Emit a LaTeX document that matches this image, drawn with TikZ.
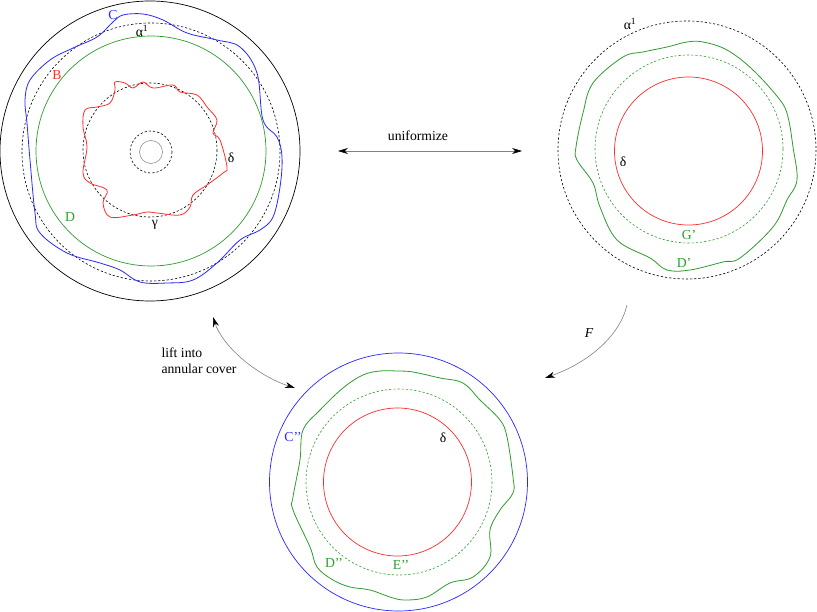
\documentclass[tikz,border=0pt]{standalone}
\usepackage{fontspec}
\setmainfont{Liberation Serif}
\usepackage{tikz}
\usetikzlibrary{arrows.meta,calc,positioning}
\definecolor{curveblue}{RGB}{40,40,255}
\definecolor{curvered}{RGB}{255,45,45}
\definecolor{curvegreen}{RGB}{45,155,45}
\tikzset{%
	every node/.style = {font=\fontsize{13.7}{16}\selectfont, inner sep=0pt},
	solidcirc/.style  = {line width=.7pt},
	dashcirc/.style   = {line width=.6pt, dash pattern=on 2.2pt off 2pt},
	wavy/.style       = {line width=.8pt},
	maparrow/.style   = {line width=.6pt, gray, -{Stealth[black,length=10pt,width=6pt]}},
	bothmap/.style    = {line width=.6pt, gray, {Stealth[black,length=10pt,width=6pt]}-{Stealth[black,length=10pt,width=6pt]}},
}

\begin{document}
\begin{tikzpicture}[x=1pt,y=-1pt]
	\useasboundingbox (0,0) rectangle (817,612);
	
	% original annulus
	\draw[solidcirc] (150,151) circle (150);
	\draw[dashcirc] (151,152) circle (129);
	\draw[solidcirc,curvegreen] (151,151) circle (115);
	\draw[dashcirc] (150,150) circle (67);
	\draw[dashcirc] (151,152) circle (21);
	\draw[line width=.5pt,gray] (151,152) circle (11.5);
	\draw[wavy,curveblue] plot[smooth cycle,tension=.6] coordinates {
		(123,15) (143,14) (163,20) (187,33) (217,40) (240,47) (257,73) (263,120)
		(277,137) (282,157) (280,187) (273,217) (260,230) (240,240) (217,263)
		(193,280) (167,283) (140,282) (120,270) (100,263) (67,253) (40,233)
		(35,213) (30,160) (27,123) (25,100) (30,80) (50,60) (73,48) (97,37) (113,22)};
	\draw[wavy,curvered] plot[smooth cycle,tension=.6] coordinates {
		(115,82) (125,83) (133,88) (143,82) (153,88) (173,85) (180,92) (197,95)
		(207,107) (217,120) (213,133) (220,140) (227,167) (223,173) (207,185)
		(193,195) (190,207) (180,215) (157,213) (147,212) (133,215) (110,217)
		(103,203) (107,190) (90,183) (83,173) (87,147) (83,127) (85,110)
		(97,107) (110,103) (115,90)};
	\node[curveblue] (C) at (113,15) {C};
	\node (alphaA) at (142,31) {α\textsuperscript{1}};
	\node[curvered] (B) at (57,75) {B};
	\node[curvegreen] (D) at (70,217) {D};
	\node (gamma) at (155,225) {γ};
	\node (deltaA) at (231,158) {δ};
	
	% uniformized picture
	\draw[dashcirc] (687,150) circle (129);
	\draw[dashcirc,curvegreen] (689,149) circle (94);
	\draw[solidcirc,curvered] (688.5,151) circle (74);
	\draw[wavy,curvegreen] plot[smooth cycle,tension=.6] coordinates {
		(687,42) (703,42) (727,50) (753,70) (780,100) (788,117) (793,147)
		(797,180) (787,200) (773,227) (740,258) (723,262) (690,270) (667,270)
		(650,258) (617,240) (600,207) (593,183) (577,160) (576,147) (583,113)
		(593,83) (623,57) (643,52) (667,47)};
	\node (alphaB) at (630,24) {α\textsuperscript{1}};
	\node (deltaB) at (623,162) {δ};
	\node[curvegreen] (Gp) at (689,235) {G’};
	\node[curvegreen] (Dp) at (684,263) {D’};
	
	% annular cover
	\draw[solidcirc,curveblue] (398.5,482) circle (129);
	\draw[dashcirc,curvegreen] (399,482) circle (93);
	\draw[solidcirc,curvered] (397.5,482) circle (74);
	\draw[wavy,curvegreen] plot[smooth cycle,tension=.6] coordinates {
		(397,371) (413,372) (440,378) (463,383) (480,400) (500,420) (507,437)
		(513,477) (513,493) (500,510) (490,530) (490,557) (473,577) (450,583)
		(427,597) (407,600) (393,598) (370,590) (350,587) (333,580) (317,567)
		(310,547) (293,510) (293,497) (300,460) (303,430) (320,410) (343,388)
		(363,375) (380,371)};
	\node[curveblue] (Cpp) at (293,437) {C’’};
	\node (deltaC) at (443,438) {δ};
	\node[curvegreen] (Dpp) at (334,563) {D’’};
	\node[curvegreen] (Epp) at (401,565) {E’’};
	
	% maps between the pictures
	\coordinate (uniL) at (338,151);
	\coordinate (uniR) at (522,151);
	\coordinate (liftA) at (213,317);
	\coordinate (liftB) at (295,388);
	\coordinate (Fstart) at (627,305);
	\coordinate (Fend) at (545,378);
	\draw[bothmap] (uniL) -- (uniR);
	\node (uniform) at (418,136) {uniformize};
	\draw[bothmap] (liftA) .. controls (222,345) and (255,375) .. (liftB);
	\node[align=left] (lift) at (199,361) {lift into\\annular cover};
	\draw[maparrow] (Fstart) .. controls (620,335) and (590,362) .. (Fend);
	\node (F) at (589,333) {\textit{F}};
\end{tikzpicture}
\end{document}
